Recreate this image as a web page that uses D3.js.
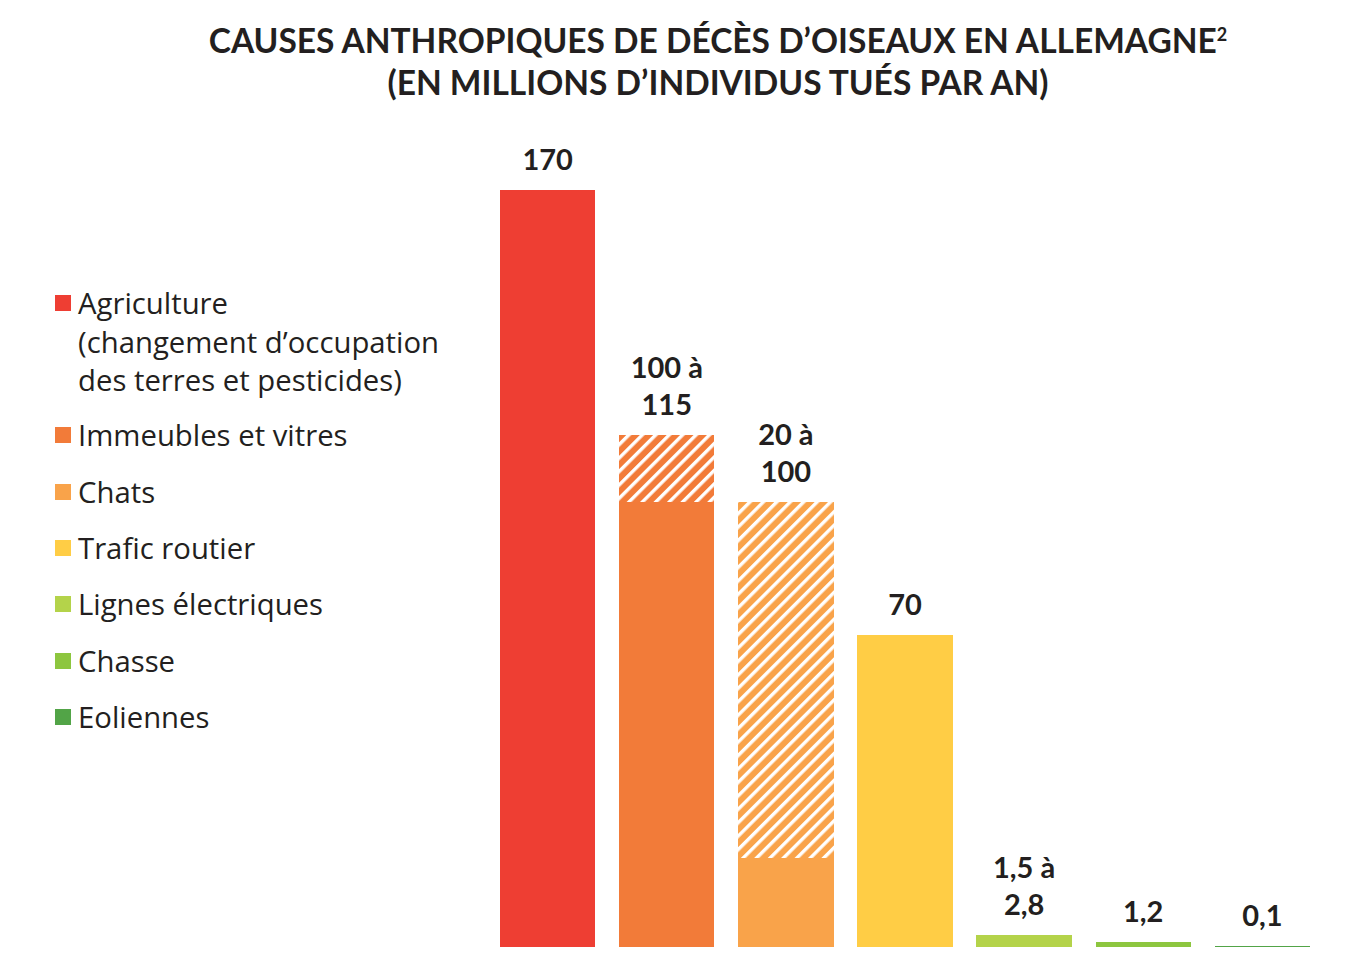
<!DOCTYPE html>
<html lang="fr">
<head>
<meta charset="UTF-8">
<title>Causes anthropiques de décès d'oiseaux en Allemagne</title>
<script src="https://d3js.org/d3.v7.min.js"></script>
<style>
  body { margin: 0; background: #fff; }
  svg { display: block; }
  .bar { shape-rendering: crispEdges; }
</style>
</head>
<body>
<div id="chart"></div>
<script>
// data (millions of birds killed per year)
var categories = ["Agriculture", "Immeubles et vitres", "Chats", "Trafic routier",
                  "Lignes électriques", "Chasse", "Eoliennes"];
var lowValues  = [170, 100, 20, 70, 1.5, 1.2, 0.1];
var highValues = [170, 115, 100, 70, 2.8, 1.2, 0.1];
var valueLabels = [["170"], ["100 à", "115"], ["20 à", "100"], ["70"],
                   ["1,5 à", "2,8"], ["1,2"], ["0,1"]];
var legendLabels = [["Agriculture", "(changement d\u2019occupation", "des terres et pesticides)"],
                    ["Immeubles et vitres"], ["Chats"], ["Trafic routier"],
                    ["Lignes électriques"], ["Chasse"], ["Eoliennes"]];
var colors = ["#ee3e33", "#f27b39", "#f9a34a", "#ffcd45", "#b4d34a", "#8dc63f", "#52a447"];

var W = 1356, H = 976;
var textColor = "#231f20";

var svg = d3.select("#chart").append("svg")
    .attr("width", W).attr("height", H);

// stripe patterns for the uncertain part of a range
var defs = svg.append("defs");
colors.forEach(function(c, i) {
    var p = defs.append("pattern")
        .attr("id", "hatch" + i)
        .attr("patternUnits", "userSpaceOnUse")
        .attr("width", 9.5).attr("height", 9.5)
        .attr("patternTransform", "rotate(45)");
    p.append("rect").attr("width", 9.5).attr("height", 9.5).attr("fill", c);
    p.append("rect").attr("width", 3.4).attr("height", 9.5).attr("fill", "#fff");
});

// title
var title = svg.append("text")
    .attr("text-anchor", "middle")
    .style("font-family", "Lato, 'Open Sans', sans-serif")
    .style("font-weight", 700)
    .style("font-size", "33.5px")
    .attr("fill", textColor);
title.append("tspan").attr("x", 718).attr("y", 53)
    .text("CAUSES ANTHROPIQUES DE DÉCÈS D\u2019OISEAUX EN ALLEMAGNE")
  .append("tspan").attr("dy", -12).style("font-size", "18px").text("2");
title.append("tspan").attr("x", 718).attr("y", 95)
    .text("(EN MILLIONS D\u2019INDIVIDUS TUÉS PAR AN)");

// scales
var x = d3.scaleBand()
    .domain(categories)
    .range([500, 1310])
    .paddingInner(0.2)
    .paddingOuter(0);

var y = d3.scaleLinear()
    .domain([0, 170])
    .range([947, 190]);

var bars = svg.append("g").selectAll("g")
    .data(categories)
    .enter().append("g");

// solid part (lower bound)
bars.append("rect")
    .attr("class", "bar")
    .attr("x", function(d) { return x(d); })
    .attr("width", x.bandwidth())
    .attr("y", function(d, i) { return Math.min(y(lowValues[i]), y(0) - 1); })
    .attr("height", function(d, i) { return Math.max(1, y(0) - y(lowValues[i])); })
    .attr("fill", function(d, i) { return colors[i]; });

// upper part of a range: hatched where tall enough, solid where too thin for stripes
bars.filter(function(d, i) { return y(lowValues[i]) - y(highValues[i]) > 0; })
  .append("rect")
    .attr("class", "bar")
    .attr("x", function(d) { return x(d); })
    .attr("width", x.bandwidth())
    .attr("y", function(d) { var i = categories.indexOf(d); return y(highValues[i]); })
    .attr("height", function(d) { var i = categories.indexOf(d); return y(lowValues[i]) - y(highValues[i]) + 0.5; })
    .attr("fill", function(d) {
        var i = categories.indexOf(d);
        return (y(lowValues[i]) - y(highValues[i]) > 10) ? "url(#hatch" + i + ")" : colors[i];
    });

// value labels above the bars
bars.append("text")
    .attr("text-anchor", "middle")
    .style("font-family", "Lato, 'Open Sans', sans-serif")
    .style("font-weight", 700)
    .style("font-size", "29px")
    .attr("fill", textColor)
    .each(function(d, i) {
        var lines = valueLabels[i];
        var top = Math.min(y(highValues[i]), y(0) - 1);
        var t = d3.select(this);
        lines.forEach(function(l, k) {
            t.append("tspan")
                .attr("x", x(d) + x.bandwidth() / 2)
                .attr("y", top - 20 - (lines.length - 1 - k) * 37)
                .text(l);
        });
    });

// legend
var legendTops = [314, 446, 503, 559, 615, 672, 728];
var legend = svg.append("g").selectAll("g")
    .data(legendLabels)
    .enter().append("g");

legend.append("rect")
    .attr("x", 55)
    .attr("y", function(d, i) { return legendTops[i] - 19; })
    .attr("width", 16).attr("height", 16)
    .attr("fill", function(d, i) { return colors[i]; });

legend.append("text")
    .style("font-family", "'Open Sans', sans-serif")
    .style("font-size", "29.3px")
    .attr("fill", textColor)
    .each(function(d, i) {
        var t = d3.select(this);
        d.forEach(function(l, k) {
            t.append("tspan")
                .attr("x", 78)
                .attr("y", legendTops[i] + k * 38.5)
                .text(l);
        });
    });
</script>
</body>
</html>
